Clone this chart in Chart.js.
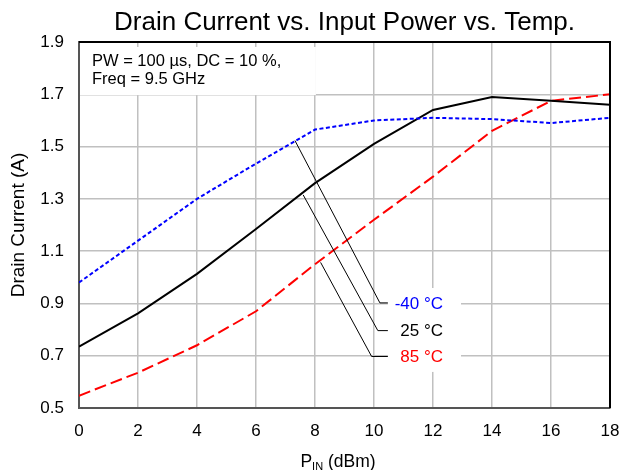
<!DOCTYPE html>
<html lang="en">
<head>
  <meta charset="UTF-8">
  <title>Drain Current vs. Input Power vs. Temp.</title>
  <script src="https://cdn.jsdelivr.net/npm/chart.js"></script>
  <style>
    html, body { margin: 0; padding: 0; background: #fff; }
    #wrap { width: 620px; height: 470px; }
  </style>
</head>
<body>
<div id="wrap"><canvas id="chart" width="620" height="470"></canvas></div>
<script>
const FONT = "'Liberation Sans', Arial, sans-serif";

// input power (dBm)
const pin = [0, 2, 4, 6, 8, 10, 12, 14, 16, 18];
// drain current (A) per temperature
const idM40 = [0.98, 1.14, 1.30, 1.435, 1.565, 1.60, 1.61, 1.605, 1.59, 1.61];
const id25 = [0.735, 0.862, 1.013, 1.185, 1.36, 1.51, 1.64, 1.69, 1.675, 1.66];
const id85 = [0.547, 0.635, 0.74, 0.87, 1.05, 1.22, 1.385, 1.56, 1.675, 1.70];

const xTicks = [0, 2, 4, 6, 8, 10, 12, 14, 16, 18];
const yTicks = [0.5, 0.7, 0.9, 1.1, 1.3, 1.5, 1.7, 1.9];

const tempLabels = ['-40 °C', '25 °C', '85 °C'];
const tempColors = ['#0000ff', '#000000', '#ff0000'];
const noteLines = ['PW = 100 µs, DC = 10 %,', 'Freq = 9.5 GHz'];

// leader lines, in data units: [from x, from y, to x, to y]
const leaders = [
  [7.32, 1.523, 10.2, 0.902],
  [7.60, 1.315, 10.13, 0.796],
  [8.19, 1.057, 9.92, 0.697]
];

const pts = ys => pin.map((x, i) => ({ x: x, y: ys[i] }));

const extras = {
  id: 'extras',
  beforeDatasetsDraw(chart) {
    const { ctx, scales: { x, y } } = chart;
    ctx.save();
    ctx.fillStyle = '#fff';
    // note box and label box hide the grid behind them
    let l = x.getPixelForValue(0) + 1, r = x.getPixelForValue(8.03);
    let t = y.getPixelForValue(1.881), b = y.getPixelForValue(1.697);
    ctx.fillRect(l, t, r - l, b - t);
    l = x.getPixelForValue(10.47); r = x.getPixelForValue(12.95);
    t = y.getPixelForValue(0.959); b = y.getPixelForValue(0.638);
    ctx.fillRect(l, t, r - l, b - t);

    ctx.fillStyle = '#000';
    ctx.font = '16.5px ' + FONT;
    ctx.textAlign = 'left';
    ctx.textBaseline = 'middle';
    ctx.fillText(noteLines[0], x.getPixelForValue(0.44), y.getPixelForValue(1.825));
    ctx.fillText(noteLines[1], x.getPixelForValue(0.44), y.getPixelForValue(1.755));
    ctx.restore();
  },
  afterDatasetsDraw(chart) {
    const { ctx, scales: { x, y } } = chart;
    ctx.save();
    ctx.strokeStyle = '#000';
    ctx.lineWidth = 1;
    leaders.forEach((d, i) => {
      ctx.beginPath();
      ctx.moveTo(x.getPixelForValue(d[0]), y.getPixelForValue(d[1]));
      ctx.lineTo(x.getPixelForValue(d[2]), y.getPixelForValue(d[3]));
      ctx.lineTo(x.getPixelForValue(10.47), y.getPixelForValue(d[3]));
      ctx.stroke();
    });
    ctx.font = '17px ' + FONT;
    ctx.textAlign = 'right';
    ctx.textBaseline = 'middle';
    leaders.forEach((d, i) => {
      ctx.fillStyle = tempColors[i];
      ctx.fillText(tempLabels[i], x.getPixelForValue(12.34), y.getPixelForValue(d[3]) + 1);
    });
    ctx.restore();
  },
  afterDraw(chart) {
    const { ctx, chartArea: a } = chart;
    ctx.save();
    // top and right frame
    ctx.strokeStyle = '#000';
    ctx.lineWidth = 2;
    ctx.beginPath();
    ctx.moveTo(a.left, a.top);
    ctx.lineTo(a.right, a.top);
    ctx.lineTo(a.right, a.bottom);
    ctx.stroke();

    // title
    ctx.fillStyle = '#000';
    ctx.textBaseline = 'alphabetic';
    ctx.textAlign = 'center';
    ctx.font = '26px ' + FONT;
    ctx.fillText('Drain Current vs. Input Power vs. Temp.', (a.left + a.right) / 2, 30);

    // x axis title with subscript
    ctx.textAlign = 'left';
    const big = '17.5px ' + FONT, small = '11px ' + FONT;
    ctx.font = big;
    const wP = ctx.measureText('P').width;
    const wRest = ctx.measureText(' (dBm)').width;
    ctx.font = small;
    const wSub = ctx.measureText('IN').width;
    let cx = 338 - (wP + wSub + wRest) / 2;
    ctx.font = big;
    ctx.fillText('P', cx, 466.5);
    cx += wP;
    ctx.font = small;
    ctx.fillText('IN', cx, 469.5);
    cx += wSub;
    ctx.font = big;
    ctx.fillText(' (dBm)', cx, 466.5);
    ctx.restore();
  }
};

new Chart(document.getElementById('chart').getContext('2d'), {
  type: 'line',
  data: {
    datasets: [
      { label: tempLabels[0], data: pts(idM40), borderColor: tempColors[0], borderWidth: 2, borderDash: [4, 2.5], pointRadius: 0, fill: false },
      { label: tempLabels[1], data: pts(id25), borderColor: tempColors[1], borderWidth: 2, pointRadius: 0, fill: false },
      { label: tempLabels[2], data: pts(id85), borderColor: tempColors[2], borderWidth: 2, borderDash: [12, 5], pointRadius: 0, fill: false }
    ]
  },
  options: {
    responsive: false,
    animation: false,
    layout: { padding: { top: 42, right: 0, left: 0, bottom: 0 } },
    plugins: { legend: { display: false }, title: { display: false }, tooltip: { enabled: false } },
    scales: {
      x: {
        type: 'linear',
        min: 0, max: 18,
        afterFit: s => { s.height = 62; s.paddingRight = 10; },
        afterBuildTicks: s => { s.ticks = xTicks.map(v => ({ value: v })); },
        ticks: { color: '#000', padding: 13, font: { family: FONT, size: 17 }, maxRotation: 0 },
        grid: { color: '#c0c0c0', lineWidth: 1.5, drawTicks: false },
        border: { color: '#555', width: 2 }
      },
      y: {
        min: 0.5, max: 1.9,
        afterFit: s => { s.width = 79; },
        afterBuildTicks: s => { s.ticks = yTicks.map(v => ({ value: v })); },
        ticks: { color: '#000', padding: 15, font: { family: FONT, size: 17 }, callback: v => v.toFixed(1) },
        grid: { color: '#c0c0c0', lineWidth: 1.5, drawTicks: false },
        border: { color: '#555', width: 2 },
        title: { display: true, text: 'Drain Current (A)', color: '#000', font: { family: FONT, size: 19 }, padding: { top: 7, bottom: 0 } }
      }
    }
  },
  plugins: [extras]
});
</script>
</body>
</html>
